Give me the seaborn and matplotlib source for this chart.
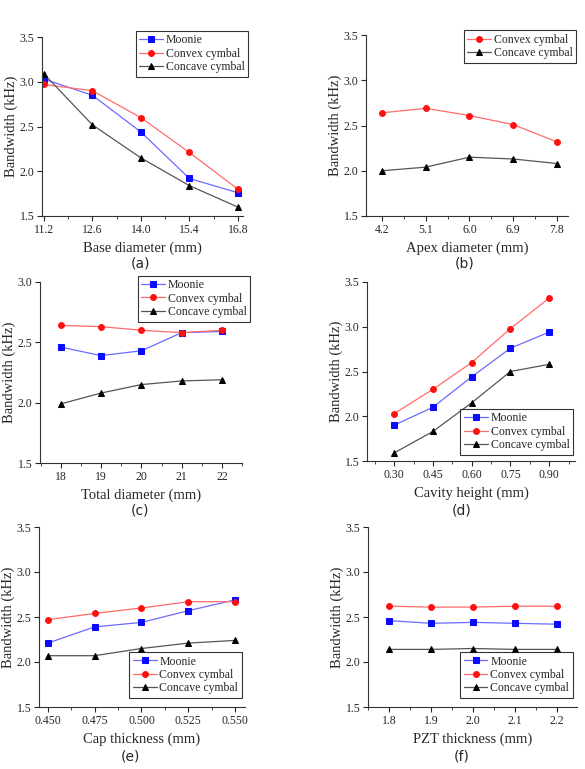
import matplotlib
matplotlib.use("Agg")
import matplotlib.pyplot as plt
import seaborn as sns
from matplotlib.ticker import AutoMinorLocator, MultipleLocator

# ---------------- data ----------------
base_diam = [11.2, 12.6, 14.0, 15.4, 16.8]
base_moonie = [3.03, 2.85, 2.44, 1.92, 1.76]
base_convex = [2.97, 2.90, 2.60, 2.21, 1.80]
base_concave = [3.09, 2.52, 2.15, 1.84, 1.60]

apex_diam = [4.2, 5.1, 6.0, 6.9, 7.8]
apex_convex = [2.64, 2.69, 2.61, 2.51, 2.32]
apex_concave = [2.00, 2.04, 2.15, 2.13, 2.08]

total_diam = [18, 19, 20, 21, 22]
total_moonie = [2.46, 2.39, 2.43, 2.58, 2.59]
total_convex = [2.64, 2.63, 2.60, 2.58, 2.60]
total_concave = [1.99, 2.08, 2.15, 2.18, 2.19]

cavity_h = [0.30, 0.45, 0.60, 0.75, 0.90]
cavity_moonie = [1.90, 2.10, 2.44, 2.76, 2.94]
cavity_convex = [2.03, 2.30, 2.60, 2.98, 3.32]
cavity_concave = [1.59, 1.83, 2.15, 2.50, 2.58]

cap_t = [0.450, 0.475, 0.500, 0.525, 0.550]
cap_moonie = [2.21, 2.39, 2.44, 2.57, 2.69]
cap_convex = [2.47, 2.54, 2.60, 2.67, 2.67]
cap_concave = [2.07, 2.07, 2.15, 2.21, 2.24]

pzt_t = [1.8, 1.9, 2.0, 2.1, 2.2]
pzt_moonie = [2.46, 2.43, 2.44, 2.43, 2.42]
pzt_convex = [2.62, 2.61, 2.61, 2.62, 2.62]
pzt_concave = [2.14, 2.14, 2.15, 2.14, 2.14]

# ---------------- style ----------------
sns.set_style("ticks")
plt.rcParams["font.family"] = ["Liberation Serif", "DejaVu Serif"]
plt.rcParams["xtick.direction"] = "out"
plt.rcParams["ytick.direction"] = "out"

W, H = 585, 769
fig = plt.figure(figsize=(W / 100, H / 100), dpi=100)

series_style = {
    "Moonie": dict(marker="s", color="#6b6bff", mfc="#0a0aff", mec="#0a0aff"),
    "Convex cymbal": dict(marker="o", color="#ff6b6b", mfc="#ff1010", mec="#ff1010"),
    "Concave cymbal": dict(marker="^", color="#555555", mfc="black", mec="black"),
}


def make_panel(box, x, series, xlim, ylim, xticks, xfmt, xlabel, tag, tag_xy, legend_loc):
    l, r, t, b = box
    ax = fig.add_axes([l / W, 1 - b / H, (r - l) / W, (b - t) / H])
    for name, y in series:
        st = series_style[name]
        sns.lineplot(x=x, y=y, ax=ax, label=name, color=st["color"], linewidth=0.9,
                     marker=st["marker"], markersize=4.2,
                     markerfacecolor=st["mfc"], markeredgecolor=st["mec"])
    ax.set_xlim(*xlim)
    ax.set_ylim(*ylim)
    ax.set_xticks(xticks)
    ax.set_xticklabels([xfmt % v for v in xticks])
    ax.yaxis.set_major_locator(MultipleLocator(0.5))
    ax.xaxis.set_minor_locator(AutoMinorLocator(2))
    ax.tick_params(which="major", length=3.5, width=0.8, labelsize=8.5, pad=2)
    ax.tick_params(which="minor", length=2, width=0.6)
    for s in ["top", "right"]:
        ax.spines[s].set_visible(False)
    for s in ["left", "bottom"]:
        ax.spines[s].set_linewidth(0.8)
        ax.spines[s].set_color("#333333")
    ax.set_xlabel(xlabel, fontsize=10.5, labelpad=4)
    ax.set_ylabel("Bandwidth (kHz)", fontsize=10.5, labelpad=1)

    leg = ax.legend(loc=legend_loc[0], bbox_to_anchor=legend_loc[1], fontsize=8.5,
                    frameon=True, fancybox=False, handlelength=2.0,
                    handletextpad=0.25, borderpad=0.3, labelspacing=0.12,
                    borderaxespad=0)
    leg.get_frame().set_edgecolor("black")
    leg.get_frame().set_linewidth(0.8)

    fig.text(tag_xy[0] / W, 1 - tag_xy[1] / H, tag, ha="center", va="center",
             fontsize=10, family=["DejaVu Sans"])
    return ax


make_panel((42, 243, 37, 216), base_diam,
           [("Moonie", base_moonie), ("Convex cymbal", base_convex),
            ("Concave cymbal", base_concave)],
           (11.15, 16.95), (1.5, 3.5), base_diam, "%.1f",
           "Base diameter (mm)", "(a)", (140, 263),
           ("upper right", (1.025, 1.035)))

make_panel((366, 568, 35, 216), apex_diam,
           [("Convex cymbal", apex_convex), ("Concave cymbal", apex_concave)],
           (3.87, 8.03), (1.5, 3.5), apex_diam, "%.1f",
           "Apex diameter (mm)", "(b)", (465, 263),
           ("upper right", (1.04, 1.025)))

make_panel((40, 242, 282, 463), total_diam,
           [("Moonie", total_moonie), ("Convex cymbal", total_convex),
            ("Concave cymbal", total_concave)],
           (17.48, 22.5), (1.5, 3.0), total_diam, "%d",
           "Total diameter (mm)", "(c)", (140, 510),
           ("upper right", (1.04, 1.035)))

make_panel((367, 575, 282, 461), cavity_h,
           [("Moonie", cavity_moonie), ("Convex cymbal", cavity_convex),
            ("Concave cymbal", cavity_concave)],
           (0.195, 1.0), (1.5, 3.5), cavity_h, "%.2f",
           "Cavity height (mm)", "(d)", (462, 510),
           ("lower right", (0.99, 0.035)))

make_panel((39, 245, 527, 707), cap_t,
           [("Moonie", cap_moonie), ("Convex cymbal", cap_convex),
            ("Concave cymbal", cap_concave)],
           (0.4453, 0.5553), (1.5, 3.5), cap_t, "%.3f",
           "Cap thickness (mm)", "(e)", (130, 757),
           ("lower right", (0.985, 0.05)))

make_panel((368, 577, 527, 707), pzt_t,
           [("Moonie", pzt_moonie), ("Convex cymbal", pzt_convex),
            ("Concave cymbal", pzt_concave)],
           (1.75, 2.248), (1.5, 3.5), pzt_t, "%.1f",
           "PZT thickness (mm)", "(f)", (462, 757),
           ("lower right", (0.98, 0.05)))

fig.savefig("out.png", dpi=100, facecolor="white")
